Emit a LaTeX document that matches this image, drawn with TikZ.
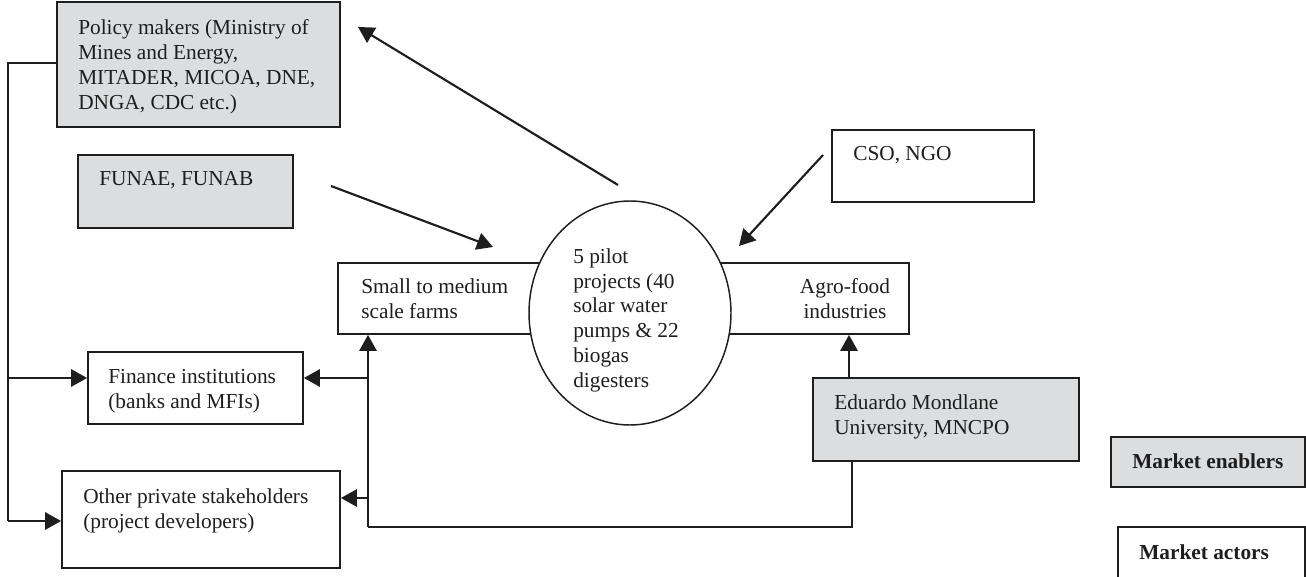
\documentclass[tikz,border=0pt]{standalone}
\usepackage{fontspec}
\setmainfont{Liberation Serif}
\usetikzlibrary{arrows.meta,fit,shapes.geometric}
\definecolor{boxgray}{RGB}{220,221,223}
\definecolor{ink}{RGB}{30,30,30}
\begin{document}
\begin{tikzpicture}[x=0.75pt,y=-0.75pt,
 box/.style={draw=ink, line width=1.4pt, inner sep=0pt},
 graybox/.style={box, fill=boxgray},
 lbl/.style={anchor=north west, align=left, inner sep=0pt, font=\fontsize{16}{18.7}\selectfont, text=ink},
 legendlbl/.style={anchor=base west, inner sep=0pt, font=\fontsize{16}{18}\selectfont\bfseries, text=ink},
 arr/.style={draw=ink, line width=1.6pt, -{Triangle[length=12pt,width=13pt]}},
 ln/.style={draw=ink, line width=1.2pt}]
\useasboundingbox (0,0) rectangle (1306,577);
% boxes
\node[graybox, fit={(57,2)(340,127)}] (policy) {};
\node[lbl] (policyT) at (78,19) {Policy makers (Ministry of\\Mines and Energy,\\MITADER, MICOA, DNE,\\DNGA, CDC etc.)};
\node[graybox, fit={(78,155)(293,228)}] (funae) {};
\node[lbl, anchor=base west] (funaeT) at (99,186) {FUNAE, FUNAB};
\node[box, fit={(832,130)(1034,202)}] (cso) {};
\node[lbl, anchor=base west] (csoT) at (853,161) {CSO, NGO};
\node[box, fit={(338,263)(560,334)}] (small) {};
\node[lbl] (smallT) at (361,278) {Small to medium\\scale farms};
\node[box, fit={(700,263)(909,334)}] (agro) {};
\node[lbl, align=center, anchor=north] (agroT) at (845,278) {Agro-food\\industries};
\node[box, fill=white, line width=1.1pt, ellipse, minimum width=151.5pt, minimum height=168pt] (pilot) at (630,313) {};
\node[lbl] (pilotT) at (573,248) {5 pilot\\projects (40\\solar water\\pumps \& 22\\biogas\\digesters};
\node[box, fit={(88,352)(303,424)}] (finance) {};
\node[lbl] (financeT) at (108,369) {Finance institutions\\(banks and MFIs)};
\node[box, fit={(62,471)(340,568)}] (other) {};
\node[lbl] (otherT) at (83,488) {Other private stakeholders\\(project developers)};
\node[graybox, fit={(813,378)(1079,461)}] (edu) {};
\node[lbl] (eduT) at (834,394) {Eduardo Mondlane\\University, MNCPO};
\node[graybox, fit={(1111,437)(1305,487)}] (enab) {};
\node[legendlbl] (enabT) at (1132,468) {Market enablers};
\node[box, fit={(1118,527)(1305,590)}] (actors) {};
\node[legendlbl] (actorsT) at (1139,559) {Market actors};
% connectors
\coordinate (lx) at (8,63);
\coordinate (lj) at (8,378);
\draw[ln] (policy.west |- lx) -- (lx) -- (8,521) coordinate (lb);
\draw[arr] (lb) -- (lb -| other.west);
\draw[arr] (lj) -- (lj -| finance.west);
\coordinate (rb) at (368,527);
\coordinate (rf) at (368,378);
\coordinate (ro) at (368,498);
\draw[arr] (rb) -- (rb |- small.south);
\draw[arr] (rf) -- (rf -| finance.east);
\draw[arr] (ro) -- (ro -| other.east);
\coordinate (eb) at (852,0);
\draw[ln] (rb) -| (eb |- edu.south);
\coordinate (eu) at (849,0);
\draw[arr] (eu |- edu.north) -- (eu |- agro.south);
\coordinate (pa) at (618,185);
\coordinate (pe) at (358,27);
\draw[arr] (pa) -- (pe);
\coordinate (fa) at (331,186);
\coordinate (fe) at (493,247);
\draw[arr] (fa) -- (fe);
\coordinate (ca) at (823,155);
\coordinate (ce) at (739,246);
\draw[arr] (ca) -- (ce);
\end{tikzpicture}
\end{document}
